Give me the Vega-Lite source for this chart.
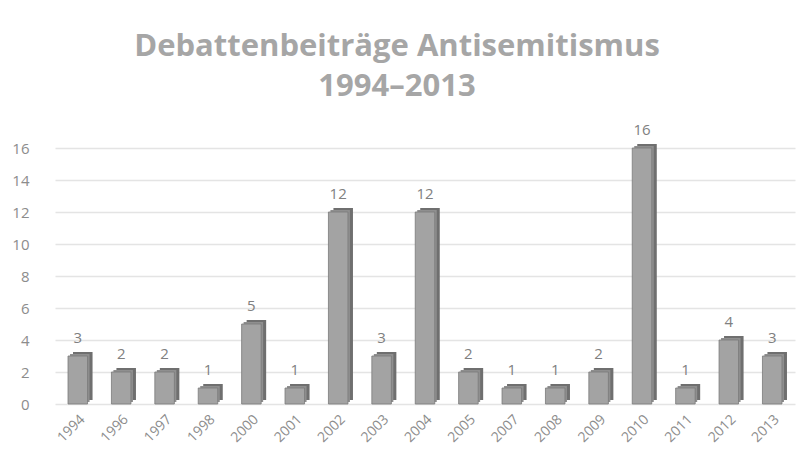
{
  "$schema": "https://vega.github.io/schema/vega-lite/v6.json",
  "autosize": "none",
  "width": 740,
  "height": 256,
  "padding": {"left": 55, "top": 148, "right": 5, "bottom": 63},
  "background": "white",
  "title": {
    "text": ["Debattenbeiträge Antisemitismus", "1994–2013"],
    "font": "Open Sans",
    "fontSize": 31,
    "fontWeight": "bold",
    "color": "#a6a6a6",
    "lineHeight": 40,
    "anchor": "middle",
    "dx": -28,
    "offset": 20
  },
  "data": {
    "values": [
      {"year": "1994", "count": 3},
      {"year": "1996", "count": 2},
      {"year": "1997", "count": 2},
      {"year": "1998", "count": 1},
      {"year": "2000", "count": 5},
      {"year": "2001", "count": 1},
      {"year": "2002", "count": 12},
      {"year": "2003", "count": 3},
      {"year": "2004", "count": 12},
      {"year": "2005", "count": 2},
      {"year": "2007", "count": 1},
      {"year": "2008", "count": 1},
      {"year": "2009", "count": 2},
      {"year": "2010", "count": 16},
      {"year": "2011", "count": 1},
      {"year": "2012", "count": 4},
      {"year": "2013", "count": 3}
    ]
  },
  "encoding": {
    "x": {
      "field": "year",
      "type": "ordinal",
      "sort": null,
      "title": null,
      "scale": {"paddingInner": 0.55, "paddingOuter": 0.3},
      "axis": {
        "labelAngle": -45,
        "labelFont": "Open Sans",
        "labelFontSize": 14,
        "labelColor": "#8c8c8c",
        "domain": false,
        "ticks": false,
        "labelPadding": 8
      }
    },
    "y": {
      "field": "count",
      "type": "quantitative",
      "title": null,
      "scale": {"domain": [0, 16]},
      "axis": {
        "values": [0, 2, 4, 6, 8, 10, 12, 14, 16],
        "labelFont": "Open Sans",
        "labelFontSize": 15,
        "labelColor": "#8c8c8c",
        "domain": false,
        "ticks": false,
        "labelPadding": 26,
        "gridColor": "#e4e4e4",
        "gridWidth": 1.5
      }
    }
  },
  "layer": [
    {
      "mark": {"type": "bar", "color": "#6f6f6f", "xOffset": 5, "yOffset": -4},
      "encoding": {}
    },
    {
      "mark": {"type": "bar", "color": "#8f8f8f", "xOffset": 2, "yOffset": -2},
      "encoding": {}
    },
    {
      "mark": {"type": "bar", "color": "#a3a3a3", "stroke": "#7a7a7a", "strokeWidth": 0.8},
      "encoding": {}
    },
    {
      "mark": {"type": "text", "dy": -18, "font": "Open Sans", "fontSize": 15, "color": "#808080"},
      "encoding": {"text": {"field": "count", "type": "quantitative"}}
    }
  ],
  "config": {"view": {"stroke": null}}
}
